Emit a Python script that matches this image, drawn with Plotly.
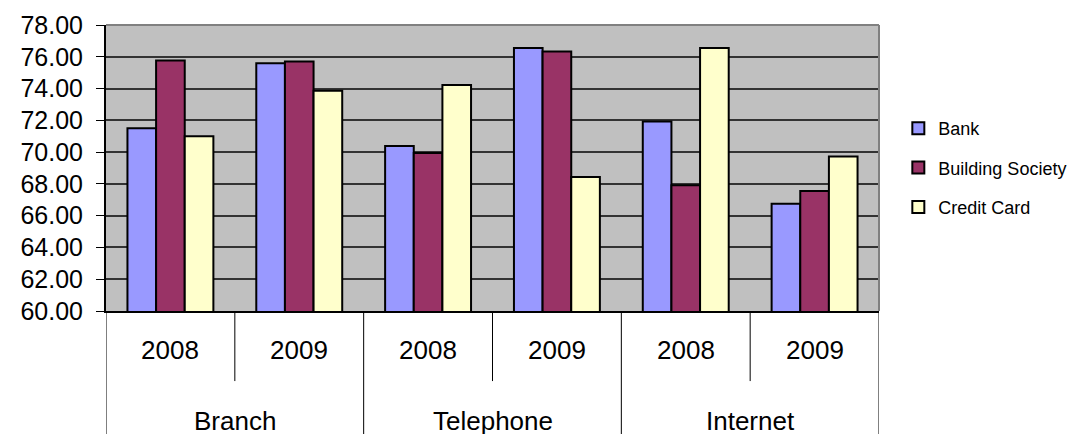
import plotly.graph_objects as go

# Customer satisfaction scores by channel and year
channels = ["Branch", "Telephone", "Internet"]
years = ["2008", "2009"]
categories = [f"{c} {y}" for c in channels for y in years]

bank = [71.50, 75.60, 70.38, 76.56, 71.93, 66.75]
building_society = [75.77, 75.70, 69.94, 76.33, 67.92, 67.55]
credit_card = [71.00, 73.86, 74.23, 68.43, 76.56, 69.73]

y_ticks = [60, 62, 64, 66, 68, 70, 72, 74, 76, 78]

FONT = "Arial, Liberation Sans, sans-serif"

fig = go.Figure()
series = [
    ("Bank", bank, "#9999FF"),
    ("Building Society", building_society, "#993366"),
    ("Credit Card", credit_card, "#FFFFCC"),
]
for name, vals, color in series:
    fig.add_trace(go.Bar(
        name=name, x=categories, y=vals, legendgroup=name,
        marker=dict(color=color, line=dict(color="black", width=2)),
    ))

# Year labels under each bar group, channel labels below them
annotations = []
for i, cat in enumerate(categories):
    annotations.append(dict(
        x=i, y=-0.136, xref="x", yref="paper", text=cat.split(" ")[1],
        showarrow=False, yanchor="middle", font=dict(family=FONT, size=26, color="black"),
    ))
for j, ch in enumerate(channels):
    annotations.append(dict(
        x=2 * j + 0.5, y=-0.385, xref="x", yref="paper", text=ch,
        showarrow=False, yanchor="middle", font=dict(family=FONT, size=26, color="black"),
    ))

# Dividers of the two-level category axis
shapes = []
for k in range(len(categories) + 1):
    long_line = (k % 2 == 0)
    shapes.append(dict(
        type="line", xref="x", yref="paper", x0=k - 0.5, x1=k - 0.5,
        y0=0, y1=-0.44 if long_line else -0.245,
        line=dict(color="black", width=1),
    ))
# Plot-area frame on the top and right
shapes.append(dict(type="line", xref="paper", yref="paper", x0=0, x1=1, y0=1, y1=1,
                   line=dict(color="#808080", width=2), layer="above"))
shapes.append(dict(type="line", xref="paper", yref="paper", x0=1, x1=1, y0=0, y1=1,
                   line=dict(color="#808080", width=2), layer="above"))

fig.update_layout(
    width=1075, height=434,
    margin=dict(l=106, r=196, t=25, b=123, autoexpand=False),
    paper_bgcolor="white", plot_bgcolor="#C0C0C0",
    barmode="group", bargap=0.333, bargroupgap=0,
    font=dict(family=FONT, color="black"),
    annotations=annotations, shapes=shapes,
    legend=dict(
        x=1.025, xanchor="left", xref="paper", y=0.5, yanchor="middle",
        font=dict(family=FONT, size=18, color="black"),
        tracegroupgap=13, bgcolor="rgba(0,0,0,0)",
        itemclick=False,
    ),
    showlegend=True,
)
fig.update_xaxes(
    type="category", categoryorder="array", categoryarray=categories,
    showticklabels=False, showgrid=False, ticks="",
    showline=True, linecolor="black", linewidth=2,
    range=[-0.5, len(categories) - 0.5],
)
fig.update_yaxes(
    range=[60, 78], tickvals=y_ticks, tickformat=".2f",
    ticks="outside", ticklen=8, tickcolor="black", tickwidth=1,
    ticklabelstandoff=8,
    tickfont=dict(family=FONT, size=25, color="black"),
    showgrid=True, gridcolor="#333333", gridwidth=1.5,
    showline=True, linecolor="black", linewidth=2, zeroline=False,
)

fig.write_html("out.html")
